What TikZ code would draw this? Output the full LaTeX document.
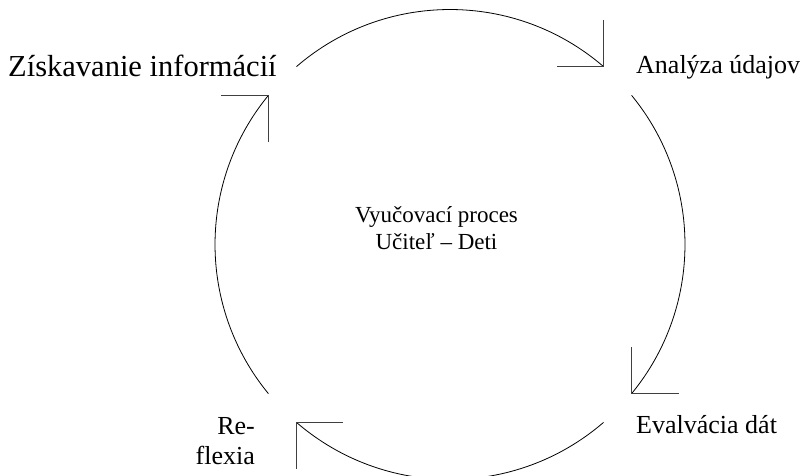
\documentclass[tikz,border=0pt]{standalone}
\usepackage{fontspec}
\setmainfont{Liberation Serif}

\begin{document}
\begin{tikzpicture}[x=1pt,y=1pt,
    lbl/.style={font=\fontsize{26}{30}\selectfont,inner sep=0pt},
    mid/.style={font=\fontsize{23}{27}\selectfont,inner sep=0pt,align=center},
    cycle arc/.style={line width=0.8pt},
    barb/.style={line width=1.1pt,black!75}]
    \useasboundingbox (0,0) rectangle (809,475);
    \coordinate (c) at (450,230.5);

    \node[lbl,anchor=base west,font=\fontsize{30.5}{34}\selectfont] (ziskavanie) at (8,398) {Získavanie informácií};
    \node[lbl,anchor=base west]        (analyza)    at (636,401)   {Analýza údajov};
    \node[lbl,anchor=base west]        (evalvacia)  at (636,41.7)  {Evalvácia dát};
    \node[lbl,anchor=north east,align=right] (reflexia) at (255,57.5) {Re-\\flexia};
    \node[mid]                         (proces)     at (436.5,247) {Vyučovací proces\\Učiteľ – Deti};

    % arcs of the cycle, clockwise
    \draw[cycle arc] ([shift={(130.8:235)}]c) arc[start angle=130.8,end angle=49.2,radius=235] coordinate (t1);
    \draw[cycle arc] ([shift={(39.4:235)}]c)  arc[start angle=39.4,end angle=-39.4,radius=235] coordinate (t2);
    \draw[cycle arc] ([shift={(-49.2:235)}]c) arc[start angle=-49.2,end angle=-130.8,radius=235] coordinate (t3);
    \draw[cycle arc] ([shift={(219.4:235)}]c) arc[start angle=219.4,end angle=140.6,radius=235] coordinate (t4);

    % open heads
    \draw[barb] (t1) -- ++(-47,0) (t1) -- ++(0,47);
    \draw[barb] (t2) -- ++(47,0)  (t2) -- ++(0,47);
    \draw[barb] (t3) -- ++(47,0)  (t3) -- ++(0,-47);
    \draw[barb] (t4) -- ++(-47,0) (t4) -- ++(0,-47);
\end{tikzpicture}
\end{document}
